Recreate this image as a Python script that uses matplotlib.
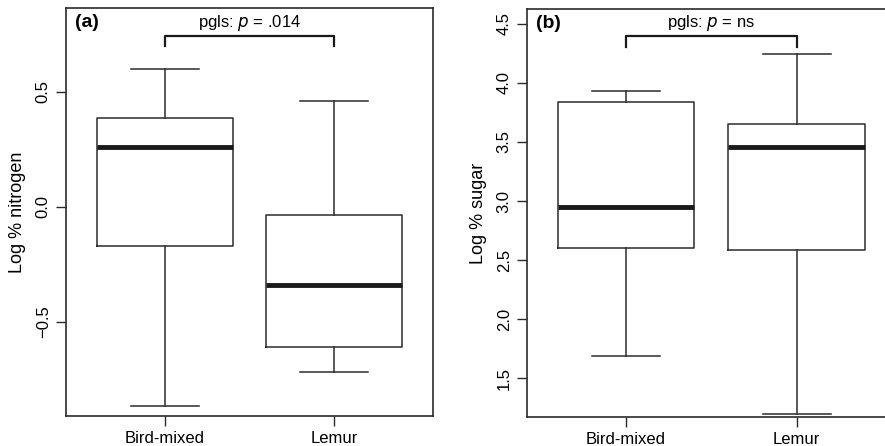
import matplotlib
matplotlib.use("Agg")
import matplotlib.pyplot as plt

plt.rcParams['font.family'] = ['Liberation Sans', 'DejaVu Sans']

categories = ["Bird-mixed", "Lemur"]

# panel (a): log % nitrogen  [low whisker, Q1, median, Q3, high whisker]
nitrogen_low = [-0.865, -0.716]
nitrogen_q1 = [-0.172, -0.607]
nitrogen_med = [0.262, -0.339]
nitrogen_q3 = [0.388, -0.036]
nitrogen_high = [0.600, 0.459]

# panel (b): log % sugar
sugar_low = [1.688, 1.200]
sugar_q1 = [2.600, 2.585]
sugar_med = [2.952, 3.460]
sugar_q3 = [3.836, 3.655]
sugar_high = [3.934, 4.247]

nitrogen_ticks = [-0.5, 0.0, 0.5]
sugar_ticks = [1.5, 2.0, 2.5, 3.0, 3.5, 4.0, 4.5]

LC = "#2b2b2b"


def make_stats(low, q1, med, q3, high):
    return [dict(whislo=low[i], q1=q1[i], med=med[i], q3=q3[i], whishi=high[i],
                 fliers=[], label=categories[i]) for i in range(len(categories))]


def panel(ax, stats, ylim, ticks, ylabel, letter, ptext, bracket_y, bracket_drop, text_y):
    ax.bxp(stats, positions=[1, 2], widths=0.8, showfliers=False,
           boxprops=dict(color=LC, linewidth=1.1),
           medianprops=dict(color="#1a1a1a", linewidth=3.5, solid_capstyle="butt"),
           whiskerprops=dict(color=LC, linewidth=1.1),
           capprops=dict(color=LC, linewidth=1.1))
    ax.set_xlim(0.42, 2.58)
    ax.set_ylim(*ylim)
    ax.set_xticks([1, 2])
    ax.set_xticklabels(categories, fontsize=12)
    ax.set_yticks(ticks)
    ax.set_yticklabels([f"{t:.1f}".replace("-", "\u2212") for t in ticks],
                       rotation=90, va="center", fontsize=12)
    ax.set_ylabel(ylabel, fontsize=13, labelpad=7)
    ax.tick_params(axis="both", length=7, width=1, color=LC, pad=4)
    for s in ax.spines.values():
        s.set_color(LC)
        s.set_linewidth(1.2)
    ax.text(0.025, 0.985, letter, transform=ax.transAxes, fontsize=14,
            fontweight="bold", va="top", ha="left")
    ax.plot([1, 1, 2, 2], [bracket_y - bracket_drop, bracket_y, bracket_y, bracket_y - bracket_drop],
            color="#1a1a1a", linewidth=1.6)
    ax.text(1.5, text_y, ptext, ha="center", va="center", fontsize=12)


fig = plt.figure(figsize=(8.85, 4.46), dpi=100)
ax1 = fig.add_axes([66 / 885, 30 / 446, 367 / 885, 408 / 446])
ax2 = fig.add_axes([527 / 885, 29 / 446, 368.7 / 885, 408 / 446])

panel(ax1, make_stats(nitrogen_low, nitrogen_q1, nitrogen_med, nitrogen_q3, nitrogen_high),
      (-0.909, 0.865), nitrogen_ticks, "Log % nitrogen", "(a)",
      r"pgls: $\mathit{p}$ = .014", 0.745, 0.047, 0.80)
panel(ax2, make_stats(sugar_low, sugar_q1, sugar_med, sugar_q3, sugar_high),
      (1.171, 4.626), sugar_ticks, "Log % sugar", "(b)",
      r"pgls: $\mathit{p}$ = ns", 4.40, 0.10, 4.505)

fig.savefig("out.png", dpi=100)
